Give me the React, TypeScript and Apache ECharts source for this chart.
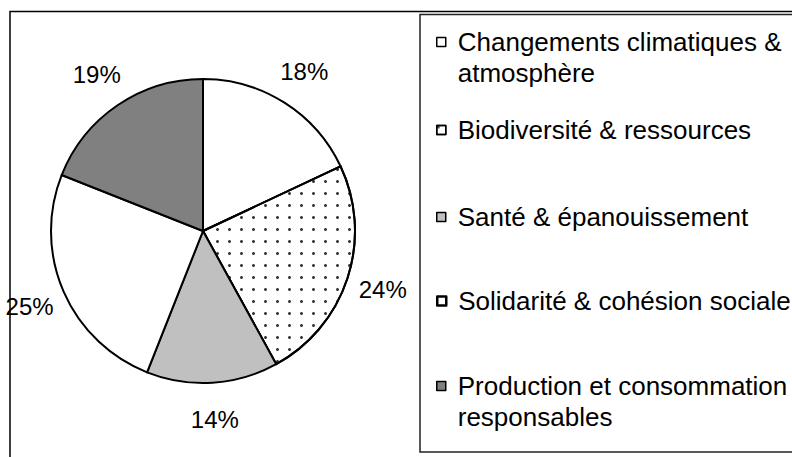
import React, { useEffect, useRef } from "react";
import * as echarts from "echarts";

const categories = [
  "Changements climatiques & atmosphère",
  "Biodiversité & ressources",
  "Santé & épanouissement",
  "Solidarité & cohésion sociale",
  "Production et consommation responsables",
];
const legendLines = [
  ["Changements climatiques &", "atmosphère"],
  ["Biodiversité & ressources"],
  ["Santé & épanouissement"],
  ["Solidarité & cohésion sociale"],
  ["Production et consommation", "responsables"],
];
const values = [18, 24, 14, 25, 19];

const sliceColors = ["#ffffff", "#ffffff", "#c0c0c0", "#ffffff", "#808080"];
const legendIconCenters = [42, 130, 217, 301, 386];
const FONT = '"Liberation Sans", Arial, sans-serif';

export default function App() {
  const ref = useRef<HTMLDivElement>(null);
  useEffect(() => {
    document.body.style.margin = "0";
    if (!ref.current) return;
    const chart = echarts.init(ref.current, null, { renderer: "svg" });

    const mainData = categories.map((name, i) => ({
      name,
      value: values[i],
      itemStyle: {
        color: sliceColors[i],
        decal:
          i === 1
            ? {
                symbol: "circle",
                symbolSize: 1,
                color: "#333",
                dashArrayX: [2.6, 8.2],
                dashArrayY: [2.6, 8.2],
                rotation: 0,
              }
            : "none",
      },
    }));

    const legends = categories.map((name, i) => {
      const lines = legendLines[i];
      const twoLine = lines.length > 1;
      // For two-line entries an empty leading line keeps the first line level with the icon
      const text = twoLine ? "\n" + lines.join("\n") : lines[0];
      const half = twoLine ? 46.5 : 15.5;
      return {
        show: true,
        orient: "vertical",
        left: 436,
        top: legendIconCenters[i] - half,
        padding: 0,
        itemGap: 0,
        itemWidth: 9,
        itemHeight: 9,
        icon: "rect",
        selectedMode: false,
        data: [name],
        formatter: () => text,
        itemStyle: { borderColor: "#000", borderWidth: i === 3 ? 2.5 : 1.5 },
        textStyle: {
          fontSize: 26,
          fontFamily: FONT,
          color: "#000",
          lineHeight: 31,
          padding: [0, 0, 0, 7],
        },
      };
    });

    chart.setOption({
      animation: false,
      backgroundColor: "#ffffff",
      legend: legends,
      graphic: [
        {
          type: "rect",
          shape: { x: 10, y: 11.5, width: 820, height: 480 },
          style: { fill: "none", stroke: "#000", lineWidth: 1.5 },
          silent: true,
        },
        {
          type: "rect",
          shape: { x: 420, y: 14.5, width: 400, height: 437.5 },
          style: { fill: "none", stroke: "#222", lineWidth: 1.5 },
          silent: true,
        },
      ],
      series: [
        {
          type: "pie",
          center: [203, 231],
          radius: 152,
          startAngle: 90,
          clockwise: true,
          label: { show: false },
          labelLine: { show: false },
          itemStyle: { borderColor: "#000", borderWidth: 2 },
          emphasis: { disabled: true },
          data: mainData,
        },
        {
          type: "pie",
          center: [203, 231],
          radius: [150, 222],
          startAngle: 90,
          clockwise: true,
          silent: true,
          itemStyle: { color: "rgba(0,0,0,0)", borderWidth: 0 },
          label: {
            show: true,
            position: "inside",
            rotate: 0,
            formatter: "{c}%",
            fontSize: 24,
            fontFamily: FONT,
            color: "#000",
          },
          labelLine: { show: false },
          emphasis: { disabled: true },
          data: categories.map((name, i) => ({ name, value: values[i] })),
        },
      ],
    });
    return () => chart.dispose();
  }, []);
  return (
    <div
      ref={ref}
      style={{ position: "absolute", left: 0, top: 0, width: 792, height: 457 }}
    />
  );
}
